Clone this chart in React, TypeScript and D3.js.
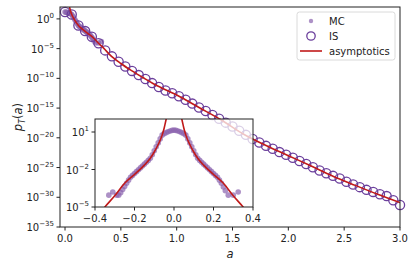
import React from "react";
import * as d3 from "d3";

// ---- data (log10 values) ----
const asymA = [0.03, 0.04, 0.05, 0.06, 0.08, 0.1, 0.12, 0.15, 0.2, 0.25, 0.3, 0.35, 0.4, 0.5, 0.6, 0.7, 0.8, 1.0, 1.2, 1.4, 1.6, 1.8, 2.0, 2.2, 2.4, 2.6, 2.8, 3.0];
const asymLog = [2.6, 2.0, 1.3, 0.75, 0.0, -0.6, -1.1, -1.65, -2.4, -3.1, -4.1, -5.0, -6.0, -7.5, -8.75, -9.9, -11.0, -12.8, -14.9, -17.0, -19.4, -21.3, -23.0, -24.7, -26.45, -28.0, -29.5, -30.9];

const isA = [0, 0.06, 0.12, 0.18, 0.24, 0.3, 0.36, 0.42, 0.48, 0.54, 0.6, 0.66, 0.72, 0.78, 0.84, 0.9, 0.96, 1.02, 1.08, 1.14, 1.2, 1.26, 1.32, 1.38, 1.44, 1.5, 1.56, 1.62, 1.68, 1.74, 1.8, 1.86, 1.92, 1.98, 2.04, 2.1, 2.16, 2.22, 2.28, 2.34, 2.4, 2.46, 2.52, 2.58, 2.64, 2.7, 2.76, 2.82, 2.88, 2.94, 3.0];
const isLog = [1.15, 0.75, -1.1, -2.05, -3.0, -4.1, -5.3, -6.3, -7.2, -8.0, -8.75, -9.45, -10.1, -10.8, -11.45, -12.05, -12.5, -13.0, -13.6, -14.25, -14.9, -15.5, -16.15, -16.8, -17.45, -18.1, -18.8, -19.5, -20.2, -20.8, -21.35, -21.85, -22.4, -22.85, -23.35, -23.9, -24.4, -24.95, -25.5, -25.95, -26.4, -26.85, -27.4, -27.85, -28.3, -28.75, -29.1, -29.5, -29.8, -30.5, -31.3];

const mcA = [-0.33, -0.31, -0.29, -0.28, -0.27, -0.26, -0.25, -0.24, -0.23, -0.22, -0.21, -0.2, -0.19, -0.18, -0.17, -0.16, -0.15, -0.14, -0.13, -0.12, -0.11, -0.1, -0.09, -0.08, -0.07, -0.06, -0.05, -0.04, -0.03, -0.02, -0.01, 0, 0.01, 0.02, 0.03, 0.04, 0.05, 0.06, 0.07, 0.08, 0.09, 0.1, 0.11, 0.12, 0.13, 0.14, 0.15, 0.16, 0.17, 0.18, 0.19, 0.2, 0.21, 0.22, 0.23, 0.24, 0.25, 0.26, 0.275, 0.3, 0.325];
const mcLog = [-4.05, -3.8, -4.05, -4.05, -3.85, -3.6, -3.35, -3.1, -2.85, -2.62, -2.47, -2.32, -2.17, -2.02, -1.87, -1.72, -1.57, -1.42, -1.27, -1.1, -0.82, -0.5, -0.18, 0.13, 0.45, 0.75, 0.87, 0.95, 1.02, 1.08, 1.13, 1.15, 1.13, 1.08, 1.02, 0.95, 0.87, 0.75, 0.45, 0.13, -0.18, -0.5, -0.82, -1.1, -1.27, -1.42, -1.57, -1.72, -1.87, -2.02, -2.17, -2.32, -2.47, -2.62, -2.85, -3.1, -3.4, -3.7, -4.05, -4.05, -3.8];

const mainXTicks = [0, 0.5, 1.0, 1.5, 2.0, 2.5, 3.0];
const mainYTickExps = [0, -5, -10, -15, -20, -25, -30, -35];
const insetXTicks = [-0.4, -0.2, 0, 0.2, 0.4];
const insetYTickExps = [1, -2, -5];

const FONT = "DejaVu Sans, sans-serif";
const RED = "#c01a1a";
const PURPLE = "#6b3f9c";
const MCFILL = "#8a62ae";

const fmt = (v: number) => (v < 0 ? "\u2212" : "") + Math.abs(v).toFixed(1);
const supTxt = (e: number) => (e < 0 ? "\u2212" : "") + Math.abs(e);

export default function App() {
  const M = { l: 60, r: 400, t: 7, b: 227 };
  const x = d3.scaleLinear().domain([-0.045, 3.0]).range([M.l, M.r]);
  const y = d3.scaleLog().domain([1e-35, 1e2]).range([M.b, M.t]);

  const I = { l: 95, r: 253, t: 119, b: 207 };
  const ix = d3.scaleLinear().domain([-0.4, 0.4]).range([I.l, I.r]);
  const iy = d3.scaleLog().domain([1e-5, Math.pow(10, 2.04)]).range([I.b, I.t]);

  const asym = asymA.map((a, i) => ({ a, p: Math.pow(10, asymLog[i]) }));
  const is = isA.map((a, i) => ({ a, p: Math.pow(10, isLog[i]) }));
  const mc = mcA.map((a, i) => ({ a, p: Math.pow(10, mcLog[i]) }));
  const mcPos = mc.filter((d) => d.a >= 0);

  const mainLine = d3
    .line<{ a: number; p: number }>()
    .x((d) => x(d.a))
    .y((d) => y(d.p))
    .curve(d3.curveMonotoneX);
  const insetLine = d3
    .line<{ a: number; p: number }>()
    .x((d) => ix(d.a))
    .y((d) => iy(d.p))
    .curve(d3.curveMonotoneX);
  const asymNeg = asym.filter((d) => d.a <= 0.4).map((d) => ({ a: -d.a, p: d.p })).reverse();
  const asymPosIn = asym.filter((d) => d.a <= 0.4);

  return (
    <svg width={416} height={268} style={{ position: "absolute", left: 0, top: 0 }} fontFamily={FONT}>
      <defs>
        <clipPath id="mainClip">
          <rect x={M.l} y={M.t} width={M.r - M.l} height={M.b - M.t} />
        </clipPath>
        <clipPath id="insetClip">
          <rect x={I.l} y={I.t} width={I.r - I.l} height={I.b - I.t} />
        </clipPath>
      </defs>
      <rect x={0} y={0} width={416} height={268} fill="white" />

      {/* main plot data */}
      <g clipPath="url(#mainClip)">
        {mcPos.map((d, i) => (
          <circle key={"mm" + i} cx={x(d.a)} cy={y(d.p)} r={2.8} fill={MCFILL} fillOpacity={0.7} />
        ))}
      </g>
      {is.map((d, i) => (
        <circle key={"is" + i} cx={x(d.a)} cy={y(d.p)} r={4.6} fill="none" stroke={PURPLE} strokeWidth={1.3} />
      ))}
      <g clipPath="url(#mainClip)">
        <path d={mainLine(asym) || ""} fill="none" stroke={RED} strokeWidth={1.6} />
      </g>

      {/* main axes */}
      <rect x={M.l} y={M.t} width={M.r - M.l} height={M.b - M.t} fill="none" stroke="#222" strokeWidth={1} />
      {mainXTicks.map((t) => (
        <g key={"xt" + t}>
          <line x1={x(t)} x2={x(t)} y1={M.b} y2={M.b + 3.5} stroke="#222" />
          <text x={x(t)} y={M.b + 15} fontSize={10} textAnchor="middle" fill="#222">
            {t.toFixed(1)}
          </text>
        </g>
      ))}
      {mainYTickExps.map((e) => (
        <g key={"yt" + e}>
          <line x1={M.l - 3.5} x2={M.l} y1={y(Math.pow(10, e))} y2={y(Math.pow(10, e))} stroke="#222" />
          <text x={M.l - 6} y={y(Math.pow(10, e)) + 4} fontSize={10} textAnchor="end" fill="#222">
            10
            <tspan dy={-5} fontSize={7}>
              {supTxt(e)}
            </tspan>
          </text>
        </g>
      ))}
      <text x={(M.l + M.r) / 2} y={258} fontSize={11.5} fontStyle="italic" textAnchor="middle" fill="#222">
        a
      </text>
      <text transform={`translate(22,${(M.t + M.b) / 2}) rotate(-90)`} fontSize={11.5} textAnchor="middle" fill="#222">
        <tspan fontStyle="italic">p</tspan>
        <tspan fontStyle="italic" fontSize={8} dy={2.5}>T</tspan>
        <tspan dy={-2.5}>(</tspan>
        <tspan fontStyle="italic">a</tspan>
        <tspan>)</tspan>
      </text>

      {/* legend */}
      <rect x={297} y={12} width={98} height={48} rx={2.5} fill="white" fillOpacity={0.85} stroke="#d0d0d0" strokeWidth={0.8} />
      <circle cx={311} cy={21} r={2.2} fill={MCFILL} fillOpacity={0.7} />
      <text x={329} y={25} fontSize={10} fill="#222">MC</text>
      <circle cx={311} cy={36} r={4.2} fill="none" stroke={PURPLE} strokeWidth={1.3} />
      <text x={329} y={40} fontSize={10} fill="#222">IS</text>
      <line x1={300} x2={322} y1={51} y2={51} stroke={RED} strokeWidth={1.6} />
      <text x={329} y={55} fontSize={10} fill="#222">asymptotics</text>

      {/* inset */}
      <rect x={I.l} y={I.t} width={I.r - I.l} height={I.b - I.t} fill="white" fillOpacity={0.75} />
      <g clipPath="url(#insetClip)">
        {mc.map((d, i) => (
          <circle key={"im" + i} cx={ix(d.a)} cy={iy(d.p)} r={2.8} fill={MCFILL} fillOpacity={0.7} />
        ))}
        <path d={insetLine(asymNeg) || ""} fill="none" stroke={RED} strokeWidth={1.6} />
        <path d={insetLine(asymPosIn) || ""} fill="none" stroke={RED} strokeWidth={1.6} />
      </g>
      <rect x={I.l} y={I.t} width={I.r - I.l} height={I.b - I.t} fill="none" stroke="#222" strokeWidth={1} />
      {insetXTicks.map((t) => (
        <g key={"ixt" + t}>
          <line x1={ix(t)} x2={ix(t)} y1={I.b} y2={I.b + 3.5} stroke="#222" />
          <text x={ix(t)} y={I.b + 15} fontSize={10} textAnchor="middle" fill="#222">
            {fmt(t)}
          </text>
        </g>
      ))}
      {insetYTickExps.map((e) => (
        <g key={"iyt" + e}>
          <line x1={I.l - 3.5} x2={I.l} y1={iy(Math.pow(10, e))} y2={iy(Math.pow(10, e))} stroke="#222" />
          <text x={I.l - 6} y={iy(Math.pow(10, e)) + 4} fontSize={10} textAnchor="end" fill="#222">
            10
            <tspan dy={-5} fontSize={7}>
              {supTxt(e)}
            </tspan>
          </text>
        </g>
      ))}
    </svg>
  );
}
